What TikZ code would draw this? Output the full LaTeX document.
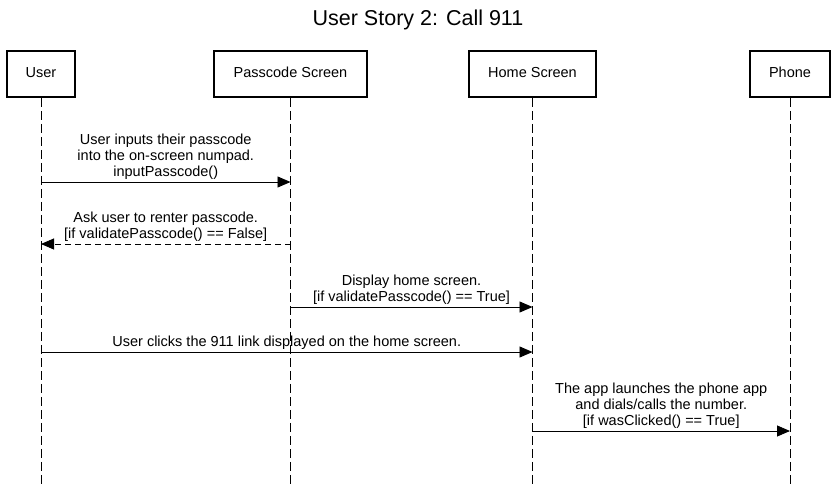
\documentclass[tikz,border=0pt]{standalone}
\usepackage{fontspec}
\setmainfont{Liberation Sans}
\usetikzlibrary{arrows.meta}
\begin{document}
\begin{tikzpicture}[x=1pt,y=-1pt,
  actor/.style={draw,line width=1.6pt,minimum height=46pt,inner sep=0pt,text height=10.5pt,text depth=3pt,font=\fontsize{14.5}{16}\selectfont},
  lifeline/.style={dash pattern=on 9pt off 4pt,line width=0.9pt},
  msg/.style={line width=0.9pt,-{Triangle[length=13pt,width=11pt]}},
  reply/.style={msg,dash pattern=on 6pt off 4pt},
  msglabel/.style={anchor=south,align=center,inner sep=2pt,font=\fontsize{14.5}{15.8}\selectfont}]
\useasboundingbox (0,0) rectangle (837,487);

\node[font=\fontsize{21.5}{24}\selectfont] (title) at (418,20) {User Story 2: Call 911};

% participants
\node[actor,minimum width=68pt] (user) at (41,74) {User};
\node[actor,minimum width=153pt] (pass) at (290.5,74) {Passcode Screen};
\node[actor,minimum width=127pt] (home) at (532.5,74) {Home Screen};
\node[actor,minimum width=80pt] (phone) at (790,74) {Phone};

% lifelines
\coordinate (bottom) at (0,487);
\draw[lifeline] (user.south) -- (user |- bottom);
\draw[lifeline] (pass.south) -- (pass |- bottom);
\draw[lifeline] (home.south) -- (home |- bottom);
\draw[lifeline] (phone.south) -- (phone |- bottom);

% messages
\coordinate (m1) at (0,182);
\coordinate (m2) at (0,244);
\coordinate (m3) at (0,307);
\coordinate (m4) at (0,352);
\coordinate (m5) at (0,431);

\draw[msg] (user |- m1) -- node[msglabel] (l1) {User inputs their passcode\\into the on-screen numpad.\\inputPasscode()} (pass |- m1);
\draw[reply] (pass |- m2) -- node[msglabel] (l2) {Ask user to renter passcode.\\{}[if validatePasscode() == False]} (user |- m2);
\draw[msg] (pass |- m3) -- node[msglabel] (l3) {Display home screen.\\{}[if validatePasscode() == True]} (home |- m3);
\draw[msg] (user |- m4) -- node[msglabel] (l4) {User clicks the 911 link displayed on the home screen.} (home |- m4);
\draw[msg] (home |- m5) -- node[msglabel] (l5) {The app launches the phone app\\and dials/calls the number.\\{}[if wasClicked() == True]} (phone |- m5);
\end{tikzpicture}
\end{document}
